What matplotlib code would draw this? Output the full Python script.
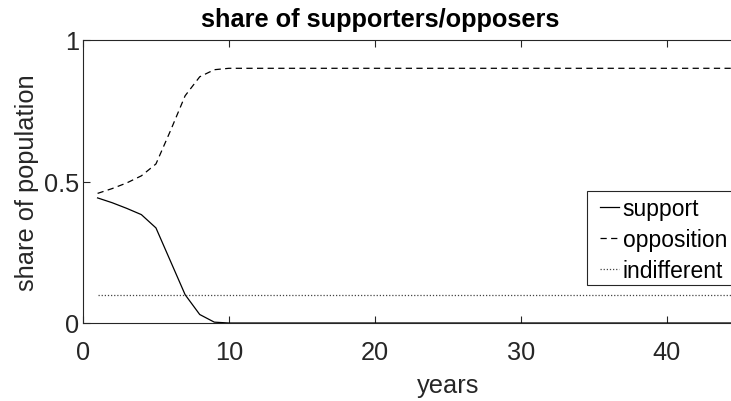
import matplotlib
matplotlib.use("Agg")
import matplotlib.pyplot as plt
from matplotlib import font_manager as fm
from matplotlib.patches import Rectangle
import numpy as np

reg = [f for f in fm.findSystemFonts() if f.endswith('LiberationSans-Regular.ttf')]
bold = [f for f in fm.findSystemFonts() if f.endswith('LiberationSans-Bold.ttf')]
for f in reg + bold:
    fm.fontManager.addfont(f)
fam = fm.FontProperties(fname=reg[0]).get_name() if reg else 'DejaVu Sans'
plt.rcParams['font.family'] = [fam, 'DejaVu Sans']

years = list(range(1, 51))
support_head = [0.442, 0.425, 0.405, 0.383, 0.336, 0.218, 0.100, 0.030, 0.003, 0.0]
opposition_head = [0.458, 0.475, 0.495, 0.520, 0.562, 0.680, 0.803, 0.870, 0.895, 0.900]
support = support_head + [0.0] * (len(years) - len(support_head))
opposition = opposition_head + [0.900] * (len(years) - len(opposition_head))
indifferent = [0.100] * len(years)
xticks = [0, 10, 20, 30, 40]
yticks = [0, 0.5, 1]
ytick_labels = ['0', '0.5', '1']

W, H = 731, 402
fig = plt.figure(figsize=(W / 100, H / 100), dpi=100)
left_px, right_px, top_px, bot_px = 83, 812.5, 41, 324
ax = fig.add_axes([left_px / W, 1 - bot_px / H, (right_px - left_px) / W, (bot_px - top_px) / H])

ax.plot(years, support, color='black', lw=0.9, ls='-', label='support')
ax.plot(years, opposition, color='black', lw=0.9, ls=(0, (5, 3.5)), label='opposition')
ax.plot(years, indifferent, color='#444444', lw=0.9, ls=(0, (1, 1.5)), label='indifferent')

ax.set_xlim(0, 50)
ax.set_ylim(0, 1)
ax.set_xticks(xticks)
ax.set_yticks(yticks)
ax.set_yticklabels(ytick_labels)
fs = 18.3
axcol = '#262626'
ax.tick_params(direction='in', length=5, width=0.8, colors=axcol, labelsize=fs,
               top=True, right=True)
ax.tick_params(axis='x', pad=12.5)
ax.tick_params(axis='y', pad=3)
for s in ax.spines.values():
    s.set_color(axcol)
    s.set_linewidth(0.8)

ax.set_xlabel('years', fontsize=fs, color=axcol, labelpad=6)
ax.set_ylabel('share of population', fontsize=fs, color=axcol, labelpad=3)
fig.text(380 / W, 1 - 20 / H, 'share of supporters/opposers', fontsize=fs,
         fontweight='bold', ha='center', va='center', color='black')

# legend box (extends past the right edge of the picture, as in the original)
box = Rectangle((587 / W, 1 - 286 / H), (760 - 587) / W, (286 - 192) / H,
                transform=fig.transFigure, facecolor='white', edgecolor=axcol,
                linewidth=0.8, zorder=4, clip_on=False)
ax.add_artist(box)

lfs = 16.5
leg = ax.legend(loc='lower left', bbox_to_anchor=(587 / W, 1 - 289 / H),
                bbox_transform=fig.transFigure, fontsize=lfs, frameon=False,
                borderaxespad=0, handlelength=1.15, handletextpad=0.15,
                labelspacing=0.35, borderpad=0.26)
leg.set_zorder(6)
for ln in leg.get_lines():
    xd = list(ln.get_xdata())
    xd[0] = xd[0] + 0.3 * lfs
    ln.set_xdata(xd)

fig.savefig('out.png', dpi=100)
